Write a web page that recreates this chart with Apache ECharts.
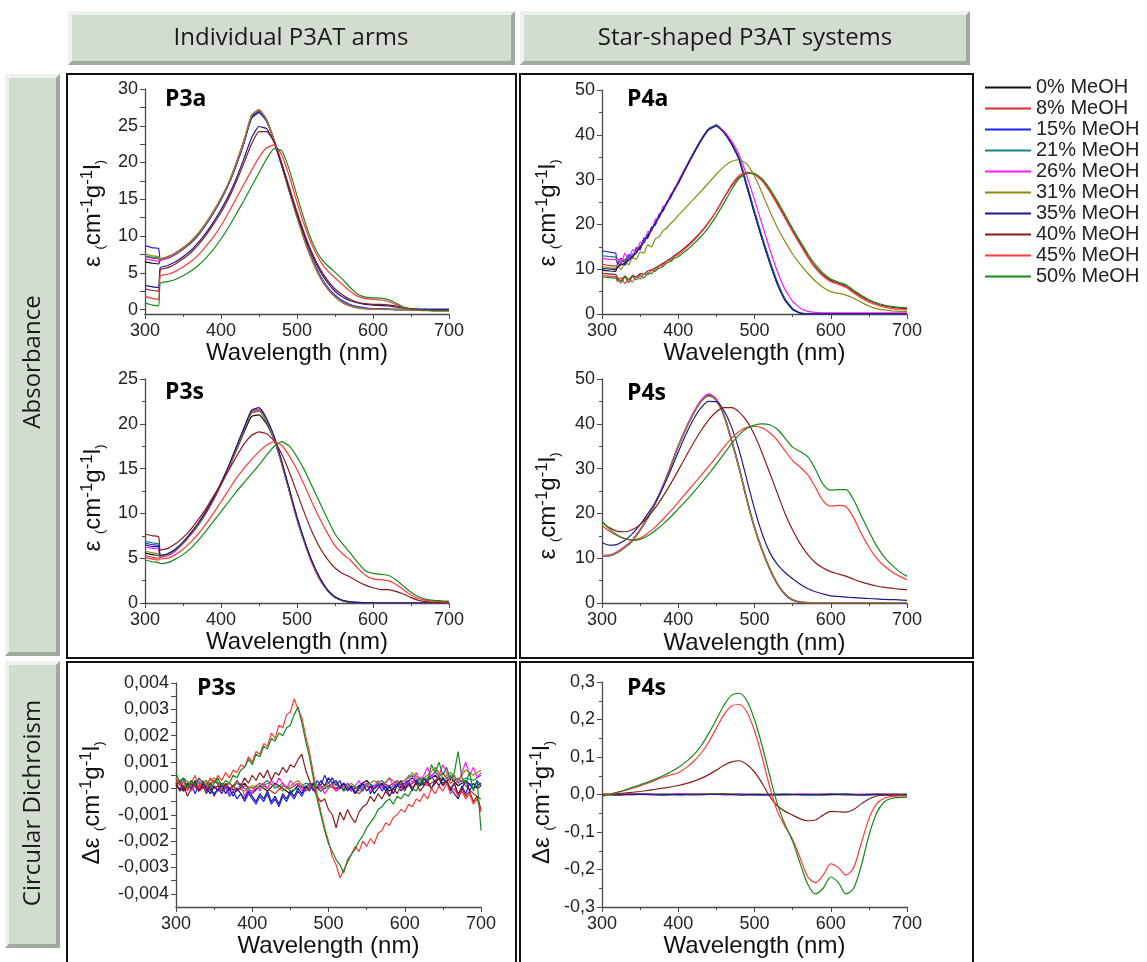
<!DOCTYPE html>
<html><head><meta charset="utf-8">
<script src="https://cdn.jsdelivr.net/npm/echarts@6/dist/echarts.min.js"></script>
<style>html,body{margin:0;padding:0;background:#fff;}#c{width:1147px;height:962px;}</style>
</head><body><div id="c"></div>
<script>
// ---------- series names / colours ----------
const NAMES = ['0% MeOH','8% MeOH','15% MeOH','21% MeOH','26% MeOH','31% MeOH','35% MeOH','40% MeOH','45% MeOH','50% MeOH'];
const COLORS = ['#111111','#d82a2a','#2323f5','#15877f','#ff1aff','#8c8c10','#1c1c8a','#8a1c1c','#ff3a3a','#17891a'];
const X_TICKS = [300,400,500,600,700];

// ---------- wavelength grids ----------
const X_A3 = [300,310,318,
 320,330,340,350,360,370,380,390,400,410,
 420,430,440,450,460,470,480,490,500,510,
 520,530,540,550,560,570,580,590,600,610,
 620,630,640,650,660,670,680,690,700];
const X_P4A = [300,310,318,
 320,325,330,335,340,345,350,355,360,365,370,375,380,385,390,395,400,
 410,420,430,440,450,460,470,480,490,500,
 510,520,530,540,550,560,570,580,590,600,
 610,620,630,640,650,660,670,680,690,700];
const X_P4S = [300,310,320,330,340,350,360,370,380,390,
 400,410,420,430,440,450,460,470,480,490,
 500,510,520,530,540,550,560,570,580,590,
 600,610,620,630,640,650,660,670,680,690,700];
const X_CD3 = [300,305,310,315,320,325,330,335,340,345,
 350,355,360,365,370,375,380,385,390,395,
 400,405,410,415,420,425,430,435,440,445,
 450,455,460,465,470,475,480,485,490,495,
 500,505,510,515,520,525,530,535,540,545,
 550,555,560,565,570,575,580,585,590,595,
 600,605,610,615,620,625,630,635,640,645,
 650,655,660,665,670,675,680,685,690,695,700];
const X_CD3B = X_P4S;
const X_CD4 = X_P4S;
const X_CD4F = [300,320,340,360,380,400,420,440,460,480,500,520,540,560,580,600,620,640,660,680,700];

// ---------- P3a absorbance ----------
const P3A_0 = [6.5,6.3,6.2,
 6.7,7.0,7.5,8.2,9.0,10.1,11.5,13.1,14.9,17.0,
 19.6,22.6,26.0,26.8,25.6,22.9,19.6,16.1,12.7,9.5,
 6.8,4.6,3.0,1.9,1.1,0.6,0.3,0.15,0.08,0.04,
 0.02,0,0,0,0,0,0,0,0];
const P3A_8 = [7.2,7.0,6.9,
 6.8,7.1,7.6,8.3,9.1,10.2,11.6,13.2,15.0,17.1,
 19.7,22.7,26.2,27.0,25.8,23.0,19.7,16.2,12.8,9.6,
 6.9,4.7,3.0,1.9,1.1,0.6,0.3,0.15,0.08,0.04,
 0.02,0,0,0,0,0,0,0,0];
const P3A_15 = [8.7,8.4,8.3,
 6.9,7.2,7.7,8.4,9.2,10.3,11.7,13.3,15.1,17.2,
 19.7,22.6,26.1,26.9,25.7,23.0,19.7,16.2,12.8,9.6,
 6.9,4.7,3.1,2.0,1.2,0.7,0.4,0.25,0.15,0.1,
 0.08,0.05,0.05,0.05,0.05,0.05,0.05,0.05,0.05];
const P3A_21 = [7.3,7.1,7.0,
 6.8,7.1,7.6,8.3,9.1,10.2,11.6,13.2,15.0,17.1,
 19.8,22.8,26.3,27.1,25.8,23.0,19.6,16.1,12.7,9.5,
 6.8,4.6,3.0,1.9,1.1,0.6,0.3,0.15,0.08,0.04,
 0.02,0,0,0,0,0,0,0,0];
const P3A_26 = [6.9,6.7,6.6,
 6.7,7.0,7.6,8.3,9.2,10.3,11.7,13.3,15.1,17.2,
 19.9,22.9,26.4,27.2,25.9,23.0,19.6,16.0,12.6,9.4,
 6.7,4.5,2.9,1.8,1.0,0.5,0.25,0.12,0.06,0.03,
 0.02,0,0,0,0,0,0,0,0];
const P3A_31 = [7.6,7.3,7.2,
 6.9,7.2,7.7,8.4,9.3,10.4,11.8,13.4,15.2,17.3,
 20.0,23.0,26.4,27.2,25.8,22.9,19.5,15.9,12.5,9.3,
 6.6,4.4,2.8,1.7,0.9,0.45,0.2,0.08,0.03,0.01,
 0,0,0,0,0,0,0,0,0];
const P3A_35 = [3.3,3.1,3.0,
 5.7,6.0,6.5,7.2,8.0,9.1,10.4,11.9,13.6,15.5,
 17.8,20.5,23.3,24.9,24.6,22.7,19.6,16.3,13.0,10.0,
 7.4,5.3,3.7,2.5,1.7,1.2,0.9,0.7,0.6,0.55,
 0.5,0.35,0.2,0.1,0.05,0.02,0,0,0];
const P3A_40 = [2.8,2.6,2.5,
 5.4,5.7,6.2,6.9,7.7,8.8,10.1,11.6,13.2,15.1,
 17.4,19.9,22.5,24.2,24.2,22.8,19.9,16.6,13.3,10.3,
 7.7,5.6,4.0,2.8,2.0,1.4,1.0,0.8,0.7,0.7,
 0.65,0.5,0.3,0.1,0.0,-0.05,-0.1,-0.1,-0.1];
const P3A_45 = [1.8,1.5,1.4,
 4.6,4.8,5.2,5.8,6.5,7.4,8.6,9.9,11.4,13.2,
 15.1,17.0,18.9,20.7,22.0,22.4,21.0,18.1,14.6,11.4,
 8.7,6.7,5.3,4.3,3.4,2.5,1.8,1.5,1.4,1.3,
 1.1,0.7,0.25,0.0,-0.1,-0.15,-0.2,-0.2,-0.2];
const P3A_50 = [0.9,0.6,0.5,
 3.6,3.8,4.1,4.6,5.2,6.0,7.0,8.2,9.6,11.2,
 13.0,14.8,16.7,18.6,20.5,21.9,21.6,19.0,15.5,12.1,
 9.2,7.2,6.0,5.1,4.1,3.0,2.1,1.7,1.6,1.55,
 1.35,0.9,0.35,0.05,-0.05,-0.1,-0.15,-0.15,-0.15];

// ---------- P4a absorbance ----------
const P4A_0 = [9.8,9.6,9.5,
 10.3,11.2,10.9,12.5,12.6,14.2,14.6,16.5,17.2,19.2,20.0,22.1,23.0,24.9,26.1,27.9,29.1,
 32.5,35.7,38.7,41.1,42.1,40.5,37.9,34.4,28.4,22.4,
 16.7,11.4,6.7,3.1,1.0,0.15,0,0,0,0,
 0,0,0,0,0,0,0,0,0,0];
const P4A_8 = [11.1,10.8,10.7,
 11.0,11.6,11.8,12.9,12.8,14.5,14.8,16.8,17.0,19.0,20.4,21.8,23.4,24.6,26.3,27.6,29.4,
 32.7,35.9,38.9,41.3,42.2,40.6,38.0,34.6,28.6,22.6,
 16.9,11.6,6.9,3.3,1.1,0.2,0.05,0,0,0,
 0,0,0,0,0,0,0,0,0,0];
const P4A_15 = [14.1,13.8,13.6,
 11.2,12.5,11.4,13.3,12.4,14.9,14.3,17.0,16.9,19.4,19.9,22.3,23.1,25.0,26.0,28.0,29.2,
 32.6,35.8,38.9,41.3,42.1,40.6,38.1,34.7,28.8,22.8,
 17.1,11.8,7.0,3.3,1.1,0.2,0.05,0.05,0.05,0.05,
 0.05,0.05,0.05,0.05,0.05,0.05,0.05,0.05,0.05,0.05];
const P4A_21 = [13.0,12.8,12.7,
 11.6,12.0,12.2,12.7,13.3,14.1,15.2,16.2,17.8,18.7,20.6,21.7,23.6,24.6,26.5,27.7,29.5,
 32.8,36.0,39.0,41.4,42.2,40.7,38.2,34.8,29.0,23.0,
 17.3,12.0,7.2,3.4,1.2,0.25,0.1,0.1,0.1,0.1,
 0.1,0.1,0.1,0.1,0.1,0.1,0.1,0.1,0.1,0.1];
const P4A_26 = [12.4,12.2,12.1,
 12.5,11.3,13.6,12.0,14.4,13.6,16.0,16.0,18.4,18.4,21.2,21.5,24.0,24.5,26.8,27.5,29.6,
 32.8,35.9,38.9,41.2,42.0,40.8,38.6,35.5,30.8,25.5,
 20.0,14.5,9.5,5.5,2.8,1.3,0.6,0.35,0.25,0.25,
 0.25,0.25,0.25,0.25,0.25,0.25,0.25,0.25,0.25,0.25];
const P4A_31 = [10.6,10.3,10.2,
 10.8,9.9,11.5,11.0,12.6,12.2,13.9,13.6,15.5,15.0,16.8,17.2,18.6,19.2,20.2,21.0,22.0,
 23.8,25.6,27.4,29.3,31.2,32.9,34.1,34.5,33.5,30.8,
 27.0,23.0,19.3,16.2,13.4,11.1,9.1,7.3,5.9,5.0,
 4.6,4.2,3.5,2.6,1.8,1.2,0.9,0.7,0.6,0.6];
const P4A_35 = [10.2,10.0,9.9,
 10.4,11.0,11.3,12.0,12.9,13.6,15.0,15.9,17.5,18.8,20.3,21.6,23.3,24.8,26.2,27.8,29.3,
 32.6,35.8,38.8,41.2,42.0,40.5,37.9,34.4,28.4,22.4,
 16.7,11.4,6.7,3.1,1.0,0.15,0.05,0.05,0.05,0.05,
 0.05,0.05,0.05,0.05,0.05,0.05,0.05,0.05,0.05,0.05];
const P4A_40 = [9.1,8.9,8.8,
 8.2,7.4,8.5,7.6,8.6,8.2,9.0,8.9,9.6,9.8,10.3,10.8,11.3,11.9,12.4,13.1,13.6,
 15.0,16.6,18.4,20.5,23.0,25.9,28.6,30.6,31.5,31.2,
 29.8,27.5,24.7,21.7,18.6,15.7,12.9,10.5,8.7,7.5,
 6.9,6.2,5.0,3.9,3.0,2.3,1.8,1.5,1.3,1.2];
const P4A_45 = [8.6,8.4,8.3,
 7.2,8.1,6.8,7.9,7.1,8.5,7.8,9.0,8.7,9.8,9.5,10.7,10.9,11.8,12.0,12.9,13.2,
 14.7,16.3,18.2,20.4,23.0,26.0,28.9,31.0,31.7,31.2,
 29.7,27.3,24.4,21.4,18.3,15.4,12.6,10.2,8.4,7.2,
 6.6,5.9,4.7,3.6,2.7,2.0,1.5,1.2,1.0,0.9];
const P4A_50 = [8.3,8.1,8.0,
 7.8,6.9,8.3,7.0,8.4,7.6,8.6,8.0,9.2,9.0,9.9,10.2,10.6,11.4,11.7,12.5,12.8,
 14.1,15.6,17.3,19.4,21.9,24.8,27.8,30.3,31.4,31.4,
 30.2,28.0,25.2,22.2,19.1,16.2,13.4,11.0,9.1,7.8,
 7.1,6.5,5.3,4.2,3.2,2.5,2.0,1.7,1.5,1.4];

// ---------- P3s absorbance ----------
const P3S_0 = [5.6,5.4,5.3,
 5.2,5.4,5.9,6.7,7.6,8.7,10.0,11.5,13.2,15.0,
 17.0,19.0,20.8,21.0,20.0,18.2,15.6,12.5,9.4,6.8,
 4.5,2.7,1.4,0.6,0.25,0.1,0.05,0.03,0.02,0.02,
 0.02,0.02,0.02,0.02,0.02,0.02,0.02,0.02,0.02];
const P3S_8 = [5.3,5.1,5.0,
 5.1,5.3,5.8,6.6,7.6,8.7,10.0,11.5,13.2,15.0,
 17.1,19.2,21.2,21.4,20.3,18.4,15.7,12.6,9.5,6.9,
 4.6,2.8,1.5,0.7,0.3,0.12,0.06,0.04,0.03,0.02,
 0.02,0.02,0.02,0.02,0.02,0.02,0.02,0.02,0.02];
const P3S_15 = [6.7,6.5,6.4,
 5.3,5.5,6.0,6.8,7.8,8.9,10.2,11.7,13.4,15.2,
 17.3,19.4,21.4,21.6,20.4,18.4,15.6,12.5,9.4,6.8,
 4.5,2.7,1.4,0.6,0.25,0.1,0.05,0.03,0.02,0.02,
 0.02,0.02,0.02,0.02,0.02,0.02,0.02,0.02,0.02];
const P3S_21 = [6.9,6.7,6.6,
 5.2,5.4,5.9,6.7,7.7,8.8,10.1,11.6,13.3,15.1,
 17.2,19.3,21.3,21.5,20.3,18.3,15.5,12.4,9.3,6.7,
 4.4,2.6,1.4,0.6,0.25,0.1,0.05,0.03,0.02,0.02,
 0.02,0.02,0.02,0.02,0.02,0.02,0.02,0.02,0.02];
const P3S_26 = [6.3,6.1,6.0,
 5.1,5.3,5.8,6.7,7.7,8.8,10.1,11.6,13.3,15.1,
 17.3,19.4,21.4,21.6,20.4,18.3,15.5,12.4,9.3,6.7,
 4.4,2.6,1.4,0.6,0.25,0.1,0.05,0.03,0.02,0.02,
 0.02,0.02,0.02,0.02,0.02,0.02,0.02,0.02,0.02];
const P3S_31 = [5.8,5.6,5.5,
 5.2,5.4,5.9,6.7,7.7,8.8,10.1,11.6,13.3,15.1,
 17.2,19.3,21.3,21.5,20.4,18.4,15.6,12.5,9.4,6.8,
 4.5,2.7,1.4,0.6,0.25,0.1,0.05,0.03,0.02,0.02,
 0.02,0.02,0.02,0.02,0.02,0.02,0.02,0.02,0.02];
const P3S_35 = [6.5,6.3,6.3,
 5.3,5.5,6.0,6.8,7.8,8.9,10.2,11.7,13.4,15.3,
 17.4,19.5,21.5,21.8,20.6,18.6,15.8,12.7,9.6,6.9,
 4.6,2.8,1.5,0.7,0.3,0.12,0.06,0.04,0.03,0.02,
 0.02,0.02,0.02,0.02,0.02,0.02,0.02,0.02,0.02];
const P3S_40 = [7.7,7.5,7.4,
 5.9,6.1,6.6,7.3,8.2,9.3,10.5,11.9,13.3,14.8,
 16.3,17.7,18.7,19.1,18.9,18.1,16.6,14.6,12.3,10.0,
 7.9,6.2,4.9,3.9,3.3,2.9,2.4,2.0,1.7,1.5,
 1.5,1.3,1.0,0.6,0.3,0.15,0.1,0.05,0.05];
const P3S_45 = [5.1,4.9,4.8,
 4.9,5.0,5.4,6.0,6.8,7.7,8.8,10.0,11.3,12.6,
 13.9,15.0,16.0,16.9,17.6,18.0,17.6,16.4,14.9,13.1,
 11.2,9.4,7.8,6.4,5.5,4.8,3.9,3.1,2.7,2.6,
 2.5,2.1,1.5,0.9,0.5,0.3,0.2,0.15,0.15];
const P3S_50 = [4.8,4.6,4.5,
 4.4,4.5,4.9,5.4,6.1,7.0,8.0,9.1,10.2,11.3,
 12.4,13.4,14.4,15.4,16.5,17.5,18.0,17.5,16.3,14.8,
 13.0,11.2,9.4,7.7,6.6,5.6,4.5,3.6,3.3,3.2,
 3.1,2.6,1.9,1.2,0.7,0.4,0.3,0.25,0.2];

// ---------- P4s absorbance ----------
const P4S_0 = [10.5,10.6,11.3,12.5,14.0,16.3,19.0,22.3,26.1,30.5,
 35.0,38.9,42.3,45.0,46.3,45.2,41.7,36.1,29.9,22.9,
 16.7,11.7,7.5,4.2,1.9,0.6,0.15,0.05,0.02,0.02,
 0.02,0.02,0.02,0.02,0.02,0.02,0.02,0.02,0.02,0.02,0.02];
const P4S_8 = [10.6,10.7,11.4,12.6,14.1,16.4,19.1,22.4,26.2,30.6,
 35.1,39.0,42.5,45.2,46.5,45.4,41.9,36.3,30.1,23.1,
 16.9,11.9,7.7,4.3,2.0,0.7,0.2,0.05,0.02,0.02,
 0.02,0.02,0.02,0.02,0.02,0.02,0.02,0.02,0.02,0.02,0.02];
const P4S_15 = [10.4,10.5,11.2,12.4,13.9,16.2,18.9,22.2,26.0,30.4,
 34.9,38.8,42.3,45.1,46.6,45.5,42.0,36.4,30.2,23.2,
 17.0,11.9,7.7,4.3,2.0,0.7,0.2,0.05,0.02,0.02,
 0.02,0.02,0.02,0.02,0.02,0.02,0.02,0.02,0.02,0.02,0.02];
const P4S_21 = [10.5,10.6,11.3,12.5,14.0,16.3,19.0,22.3,26.1,30.5,
 35.0,38.9,42.4,45.1,46.5,45.3,41.8,36.2,30.0,23.0,
 16.8,11.8,7.6,4.2,1.9,0.6,0.15,0.05,0.02,0.02,
 0.02,0.02,0.02,0.02,0.02,0.02,0.02,0.02,0.02,0.02,0.02];
const P4S_26 = [10.6,10.7,11.4,12.6,14.1,16.4,19.1,22.4,26.2,30.6,
 35.1,39.0,42.5,45.3,46.7,45.5,42.0,36.3,30.1,23.1,
 16.9,11.9,7.7,4.3,2.0,0.7,0.2,0.05,0.02,0.02,
 0.02,0.02,0.02,0.02,0.02,0.02,0.02,0.02,0.02,0.02,0.02];
const P4S_31 = [10.4,10.5,11.2,12.4,13.9,16.2,18.9,22.2,26.0,30.4,
 34.9,38.8,42.2,44.9,46.2,45.2,41.8,36.3,30.1,23.1,
 16.9,11.9,7.7,4.4,2.1,0.8,0.3,0.15,0.1,0.1,
 0.1,0.1,0.1,0.1,0.1,0.1,0.1,0.1,0.1,0.1,0.1];
const P4S_35 = [13.5,12.9,13.1,14.0,15.5,17.5,19.9,22.5,25.8,29.6,
 33.7,37.6,41.0,43.6,45.0,44.9,42.9,39.2,34.0,27.5,
 21.0,15.5,11.3,8.6,6.8,5.4,4.2,3.2,2.5,2.0,
 1.6,1.45,1.3,1.2,1.1,1.0,0.9,0.8,0.75,0.7,0.6];
const P4S_40 = [18.0,16.8,16.0,15.9,16.4,17.5,19.2,21.3,23.8,26.6,
 29.6,32.7,35.7,38.5,40.9,42.7,43.6,43.6,42.6,40.6,
 37.5,33.5,29.0,24.5,20.0,16.3,13.2,10.8,9.0,7.8,
 7.0,6.5,6.0,5.3,4.7,4.2,3.8,3.5,3.3,3.1,3.0];
const P4S_45 = [17.3,16.0,15.0,14.3,14.1,14.5,15.6,17.0,18.7,20.5,
 22.5,24.5,26.5,28.5,30.5,32.6,34.8,36.8,38.3,39.2,
 39.4,39.1,38.0,36.3,34.0,31.8,30.3,28.6,25.8,22.8,
 21.6,21.8,21.5,19.0,15.5,12.5,10.0,8.3,7.0,6.0,5.2];
const P4S_50 = [18.2,16.5,15.2,14.4,14.0,14.2,15.0,16.2,17.6,19.2,
 21.0,22.8,24.7,26.7,28.8,31.0,33.3,35.6,37.6,39.0,
 39.7,40.0,39.8,38.8,36.8,34.8,33.8,32.6,29.8,26.5,
 25.2,25.3,25.3,23.0,19.5,16.0,12.8,10.3,8.5,7.0,6.0];

// ---------- P3s circular dichroism ----------
const CD3_0 = [0.0001,-0.0001,0.0002,0.0000,0.0001,-0.0002,0.0001,0.0000,-0.0001,0.0002,
 -0.0002,0.0001,-0.0001,0.0002,0.0000,-0.0002,0.0001,0.0000,0.0002,-0.0001,
 0.0001,0.0000,0.0002,-0.0001,0.0001,0.0003,0.0000,0.0002,-0.0001,0.0001,
 0.0002,0.0004,0.0001,0.0003,0.0005,0.0002,0.0004,0.0001,0.0003,0.0000,0.0002];
const CD3_8 = [0.0003,0.0000,0.0002,-0.0001,0.0001,0.0003,0.0000,0.0002,-0.0001,0.0001,
 0.0000,0.0002,0.0000,-0.0002,0.0001,0.0000,0.0002,-0.0001,0.0001,0.0000,
 0.0002,-0.0001,0.0001,0.0000,-0.0002,0.0001,0.0000,0.0002,0.0001,0.0003,
 0.0000,0.0002,0.0004,0.0001,0.0003,0.0006,0.0002,0.0004,0.0001,-0.0002,-0.0004];
const CD3_15 = [0.0002,-0.0001,0.0003,0.0000,0.0002,-0.0002,0.0001,0.0003,-0.0001,0.0001,
 -0.0003,0.0000,-0.0002,0.0001,-0.0003,-0.0001,-0.0004,-0.0002,-0.0005,-0.0002,
 -0.0004,-0.0006,-0.0003,-0.0005,-0.0002,-0.0006,-0.0004,-0.0007,-0.0003,-0.0005,
 -0.0002,-0.0004,-0.0001,-0.0003,0.0000,0.0002,-0.0001,0.0003,0.0001,0.0005,
 0.0002,0.0004,0.0001,0.0003,-0.0001,0.0002,0.0000,-0.0002,0.0001,-0.0001,
 0.0002,-0.0002,0.0000,0.0002,-0.0001,0.0001,-0.0003,0.0000,0.0002,-0.0001,
 0.0001,0.0003,0.0000,0.0002,0.0004,0.0001,0.0003,0.0005,0.0002,0.0004,
 0.0001,0.0003,-0.0001,0.0002,-0.0003,0.0001,-0.0002,0.0002,0.0000,0.0003,0.0001];
const CD3_21 = [0.0002,0.0004,0.0001,0.0002,0.0000,0.0003,0.0001,-0.0001,0.0002,0.0000,
 -0.0001,0.0001,0.0003,0.0000,0.0002,-0.0001,0.0000,0.0002,0.0001,-0.0001,
 0.0001,0.0002,-0.0001,0.0001,0.0000,0.0002,0.0001,0.0003,0.0000,0.0002,
 0.0003,0.0005,0.0002,0.0004,0.0006,0.0003,0.0005,0.0002,0.0004,0.0003,0.0005];
const CD3_26 = [0.0001,0.0003,0.0000,0.0002,-0.0001,0.0001,0.0003,0.0000,0.0002,-0.0002,
 0.0001,-0.0001,0.0002,0.0000,-0.0002,0.0001,-0.0001,0.0002,-0.0003,0.0000,
 -0.0002,0.0001,-0.0001,0.0002,0.0000,0.0003,0.0001,0.0004,0.0002,0.0000,
 0.0003,0.0001,0.0002,-0.0001,0.0001,0.0000,0.0002,0.0000,0.0001,-0.0002,
 0.0000,0.0002,-0.0001,0.0001,0.0000,0.0002,-0.0001,0.0001,0.0003,0.0000,
 0.0002,-0.0001,0.0001,0.0003,0.0000,0.0002,0.0004,0.0001,0.0003,0.0000,
 0.0002,0.0005,0.0002,0.0006,0.0003,0.0005,0.0008,0.0004,0.0007,0.0005,
 0.0009,0.0006,0.0003,0.0005,0.0002,0.0006,0.0010,0.0005,0.0008,0.0004,0.0006];
const CD3_31 = [0.0004,0.0001,0.0003,0.0000,0.0002,0.0004,0.0001,0.0002,0.0000,-0.0001,
 0.0001,0.0000,0.0002,0.0001,-0.0001,0.0001,0.0003,0.0000,0.0002,0.0001,
 0.0000,0.0002,0.0000,0.0002,-0.0001,0.0001,0.0003,0.0001,0.0004,0.0002,
 0.0003,0.0006,0.0003,0.0005,0.0008,0.0004,0.0006,0.0003,0.0007,0.0005,0.0007];
const CD3_35 = [0.0001,0.0003,-0.0001,0.0002,0.0000,0.0003,-0.0001,0.0002,0.0000,-0.0002,
 0.0001,-0.0001,0.0002,-0.0002,0.0000,-0.0003,0.0000,-0.0002,-0.0004,-0.0001,
 -0.0003,-0.0005,-0.0002,-0.0004,-0.0001,-0.0005,-0.0003,-0.0006,-0.0002,-0.0004,
 -0.0001,-0.0003,0.0000,-0.0002,0.0001,-0.0001,0.0002,0.0000,0.0003,0.0001,
 0.0004,0.0002,0.0003,0.0000,0.0002,-0.0001,0.0001,-0.0002,0.0000,0.0002,
 -0.0001,0.0001,-0.0002,0.0000,0.0002,-0.0001,0.0001,-0.0002,0.0001,0.0003,
 0.0000,0.0002,-0.0001,0.0003,0.0001,0.0004,0.0002,0.0000,0.0003,0.0001,
 0.0004,0.0002,0.0000,-0.0002,-0.0004,0.0000,0.0003,-0.0001,0.0002,0.0000,0.0001];
const CD3_40 = [0.0002,-0.0001,0.0001,-0.0003,0.0000,0.0002,-0.0001,0.0001,-0.0002,0.0002,
 0.0000,0.0001,-0.0001,0.0002,0.0000,0.0001,0.0003,0.0001,0.0004,0.0002,
 0.0005,0.0003,0.0006,0.0004,0.0007,0.0003,0.0006,0.0005,0.0008,0.0006,
 0.0009,0.0008,0.0011,0.0013,0.0007,0.0003,0.0000,-0.0003,-0.0005,-0.0004,
 -0.0008,-0.0010,-0.0015,-0.0009,-0.0012,-0.0008,-0.0011,-0.0013,-0.0009,-0.0007,
 -0.0006,-0.0003,-0.0005,-0.0002,-0.0004,-0.0001,-0.0003,0.0000,-0.0002,0.0001,
 -0.0001,0.0002,0.0000,0.0002,-0.0001,0.0001,0.0003,0.0000,0.0002,0.0004,
 0.0001,0.0003,0.0000,0.0002,-0.0002,0.0000,-0.0003,-0.0001,-0.0005,-0.0003,-0.0008];
const CD3_45 = [0.0004,0.0001,0.0003,-0.0001,0.0002,0.0005,0.0000,0.0003,0.0001,0.0004,
 0.0002,0.0005,0.0003,0.0006,0.0004,0.0007,0.0006,0.0009,0.0008,0.0012,
 0.0010,0.0014,0.0013,0.0017,0.0016,0.0021,0.0019,0.0024,0.0023,0.0028,
 0.0029,0.0034,0.0030,0.0027,0.0020,0.0014,0.0006,-0.0002,-0.0009,-0.0015,
 -0.0020,-0.0026,-0.0029,-0.0034,-0.0031,-0.0028,-0.0025,-0.0022,-0.0024,-0.0020,
 -0.0022,-0.0019,-0.0021,-0.0017,-0.0016,-0.0013,-0.0014,-0.0011,-0.0010,-0.0008,
 -0.0009,-0.0006,-0.0007,-0.0004,-0.0005,-0.0002,-0.0004,0.0000,-0.0002,0.0001,
 -0.0001,0.0002,-0.0002,0.0000,-0.0003,-0.0001,-0.0004,-0.0002,-0.0006,-0.0004,-0.0009];
const CD3_50 = [0.0006,0.0002,0.0004,0.0000,0.0003,0.0001,0.0004,0.0002,0.0003,0.0000,
 0.0002,0.0004,0.0001,0.0003,0.0002,0.0005,0.0004,0.0007,0.0008,0.0011,
 0.0009,0.0013,0.0012,0.0016,0.0015,0.0019,0.0018,0.0021,0.0020,0.0023,
 0.0024,0.0028,0.0031,0.0025,0.0018,0.0012,0.0004,-0.0004,-0.0010,-0.0016,
 -0.0021,-0.0024,-0.0027,-0.0029,-0.0032,-0.0027,-0.0025,-0.0023,-0.0020,-0.0018,
 -0.0015,-0.0013,-0.0011,-0.0008,-0.0007,-0.0005,-0.0004,-0.0006,-0.0003,-0.0004,
 -0.0002,-0.0003,0.0000,-0.0001,0.0002,0.0004,0.0003,0.0009,0.0006,0.0010,
 0.0005,0.0008,0.0003,0.0006,0.0014,0.0004,0.0002,0.0006,-0.0001,0.0003,-0.0016];

// ---------- P4s circular dichroism ----------
const CD4_0  = [0.001,-0.001,0.002,0.000,0.001,-0.001,0.001,0.002,0.000,0.001,-0.001,0.000,0.001,-0.001,0.000,0.001,0.000,-0.001,0.000,0.001,0.000];
const CD4_8  = [0.000,0.001,-0.001,0.001,0.000,0.002,0.000,0.001,-0.001,0.000,0.001,-0.001,0.000,0.001,0.000,-0.001,0.001,0.000,0.001,0.000,-0.001];
const CD4_15 = [-0.001,0.000,0.001,0.000,-0.001,0.001,0.000,0.001,0.001,-0.001,0.000,0.001,-0.001,0.000,0.000,0.001,-0.001,0.000,0.001,0.000,0.000];
const CD4_21 = [0.001,0.000,0.000,0.001,-0.001,0.000,0.001,0.000,0.002,0.000,-0.001,0.000,0.001,0.000,-0.001,0.000,0.001,-0.001,0.000,0.000,0.001];
const CD4_26 = [0.000,0.001,0.001,-0.001,0.000,0.001,0.002,0.001,0.000,0.001,0.000,-0.001,0.000,0.001,0.001,0.000,0.000,0.001,-0.001,0.000,0.000];
const CD4_31 = [0.002,0.000,0.001,0.000,0.001,0.000,0.001,0.001,0.002,0.000,0.001,0.000,-0.001,0.000,0.001,0.000,-0.001,0.000,0.001,0.000,0.001];
const CD4_35 = [0.000,-0.001,0.000,0.001,-0.001,0.000,-0.001,0.000,0.001,-0.001,0.000,-0.001,0.000,0.000,-0.001,0.000,0.001,-0.001,0.000,-0.001,0.000];
const CD4_40 = [-0.002,0.0,0.002,0.004,0.006,0.008,0.011,0.014,0.017,0.02,
 0.024,0.029,0.035,0.043,0.053,0.065,0.078,0.087,0.09,0.08,
 0.06,0.03,-0.005,-0.03,-0.045,-0.055,-0.065,-0.07,-0.068,-0.055,
 -0.045,-0.046,-0.047,-0.04,-0.025,-0.012,-0.004,-0.002,-0.002,-0.002,-0.002];
const CD4_45 = [-0.003,0.001,0.006,0.011,0.017,0.023,0.03,0.038,0.046,0.052,
 0.058,0.071,0.088,0.11,0.14,0.177,0.213,0.236,0.24,0.22,
 0.17,0.1,0.02,-0.045,-0.085,-0.12,-0.17,-0.22,-0.235,-0.215,
 -0.185,-0.195,-0.215,-0.195,-0.13,-0.065,-0.025,-0.01,-0.005,-0.004,-0.004];
const CD4_50 = [-0.005,0.0,0.006,0.012,0.019,0.026,0.033,0.041,0.05,0.06,
 0.072,0.087,0.105,0.13,0.163,0.2,0.238,0.265,0.27,0.25,
 0.2,0.13,0.05,-0.025,-0.08,-0.125,-0.185,-0.24,-0.265,-0.25,
 -0.22,-0.235,-0.265,-0.25,-0.19,-0.11,-0.05,-0.02,-0.01,-0.008,-0.007];

// ---------- panel table ----------
const PANELS = [
 {xs:[X_A3,X_A3,X_A3,X_A3,X_A3,X_A3,X_A3,X_A3,X_A3,X_A3], ys:[P3A_0,P3A_8,P3A_15,P3A_21,P3A_26,P3A_31,P3A_35,P3A_40,P3A_45,P3A_50], smooth:0.15},
 {xs:[X_P4A,X_P4A,X_P4A,X_P4A,X_P4A,X_P4A,X_P4A,X_P4A,X_P4A,X_P4A], ys:[P4A_0,P4A_8,P4A_15,P4A_21,P4A_26,P4A_31,P4A_35,P4A_40,P4A_45,P4A_50], smooth:0.1},
 {xs:[X_A3,X_A3,X_A3,X_A3,X_A3,X_A3,X_A3,X_A3,X_A3,X_A3], ys:[P3S_0,P3S_8,P3S_15,P3S_21,P3S_26,P3S_31,P3S_35,P3S_40,P3S_45,P3S_50], smooth:0.15},
 {xs:[X_P4S,X_P4S,X_P4S,X_P4S,X_P4S,X_P4S,X_P4S,X_P4S,X_P4S,X_P4S], ys:[P4S_0,P4S_8,P4S_15,P4S_21,P4S_26,P4S_31,P4S_35,P4S_40,P4S_45,P4S_50], smooth:0.3},
 {xs:[X_CD3B,X_CD3B,X_CD3,X_CD3B,X_CD3,X_CD3B,X_CD3,X_CD3,X_CD3,X_CD3], ys:[CD3_0,CD3_8,CD3_15,CD3_21,CD3_26,CD3_31,CD3_35,CD3_40,CD3_45,CD3_50], smooth:false},
 {xs:[X_CD4F,X_CD4F,X_CD4F,X_CD4F,X_CD4F,X_CD4F,X_CD4F,X_CD4,X_CD4,X_CD4], ys:[CD4_0,CD4_8,CD4_15,CD4_21,CD4_26,CD4_31,CD4_35,CD4_40,CD4_45,CD4_50], smooth:0.3}
];

// ---------- layout ----------
const GRIDS = [
 {left:145, top:89,  width:304, height:225},
 {left:602, top:90,  width:305, height:224},
 {left:145, top:379, width:304, height:224},
 {left:602, top:379, width:305, height:224},
 {left:176, top:683, width:305, height:224},
 {left:602, top:682, width:305, height:225}
];
const XNAME_GAP = [27,21,20,28,20,21];
const YNAME_GAP = [38,40,38,40,70,46];
const YNAME_SHIFT = [24,22,14,30,16,16];
const FONT = 'Liberation Sans';
const AX = '#4a4a4a';

function pairs(xs, ys){
  if (xs.length !== ys.length) console.warn('length mismatch', xs.length, ys.length);
  const out = [];
  for (let i = 0; i < Math.min(xs.length, ys.length); i++) out.push([xs[i], ys[i]]);
  return out;
}
const RICH = {
  e:{fontSize:24, lineHeight:28, fontFamily:FONT, color:'#111'},
  t:{fontSize:24, lineHeight:28, fontFamily:FONT, color:'#111'},
  s:{fontSize:17, lineHeight:17, verticalAlign:'top', fontFamily:FONT, color:'#111'},
  p:{fontSize:13, lineHeight:13, verticalAlign:'bottom', fontFamily:FONT, color:'#111'}
};
function yName(sym){ return '{e|' + sym + '} {p|(}{t|cm}{s|-1}{t|g}{s|-1}{t|l}{p|)}'; }

const Y_CFG = [
 {min:-0.6, max:30, labels:[0,5,10,15,20,25,30], ticks:[0,2.5,5,7.5,10,12.5,15,17.5,20,22.5,25,27.5,30], fmt:v=>String(v), sym:'ε'},
 {min:0, max:50, interval:10, fmt:v=>String(v), sym:'ε'},
 {min:0, max:25, interval:5, fmt:v=>String(v), sym:'ε'},
 {min:0, max:50, interval:10, fmt:v=>String(v), sym:'ε'},
 {min:-0.0045, max:0.004, labels:[-0.004,-0.003,-0.002,-0.001,0,0.001,0.002,0.003,0.004],
  ticks:[-0.004,-0.0035,-0.003,-0.0025,-0.002,-0.0015,-0.001,-0.0005,0,0.0005,0.001,0.0015,0.002,0.0025,0.003,0.0035,0.004],
  fmt:v=>(Math.abs(v)<1e-12?0:v).toFixed(3).replace('.',','), sym:'Δε'},
 {min:-0.3, max:0.3, interval:0.1, fmt:v=>(Math.abs(v)<1e-9?0:v).toFixed(1).replace('.',','), sym:'Δε'}
];

const xAxes = GRIDS.map((g,i)=>({
  type:'value', gridIndex:i, min:300, max:700, interval:100,
  name:'Wavelength (nm)', nameLocation:'middle', nameGap:XNAME_GAP[i],
  nameTextStyle:{fontSize:24, fontFamily:FONT, color:'#111'},
  axisLine:{onZero:false, lineStyle:{color:AX, width:1.3}},
  axisTick:{show:true, inside:false, length:5, lineStyle:{color:AX, width:1}},
  minorTick:{show:true, splitNumber:2, length:3, lineStyle:{color:AX, width:1}},
  axisLabel:{fontSize:18, fontFamily:FONT, color:'#222', margin:8},
  splitLine:{show:false}
}));
const yAxes = Y_CFG.map((c,i)=>{
  const ax = {
    type:'value', gridIndex:i, min:c.min, max:c.max,
    name:yName(c.sym), nameLocation:'middle', nameGap:YNAME_GAP[i], nameRotate:90,
    nameTextStyle:{fontSize:24, fontFamily:FONT, color:'#111', rich:RICH, padding:[0, YNAME_SHIFT[i], 0, 0]},
    axisLine:{onZero:false, lineStyle:{color:AX, width:1.3}},
    axisTick:{show:true, inside:false, length:5, lineStyle:{color:AX, width:1}},
    axisLabel:{fontSize:18, fontFamily:FONT, color:'#222', margin:7, formatter:c.fmt},
    splitLine:{show:false}
  };
  if (c.interval !== undefined) {
    ax.interval = c.interval;
    ax.minorTick = {show:true, splitNumber:2, length:3, lineStyle:{color:AX, width:1}};
  }
  if (c.labels) {
    ax.axisLabel.customValues = c.labels;
    ax.axisTick.customValues = c.ticks;
  }
  return ax;
});

const series = [];
PANELS.forEach((p, gi)=>{
  NAMES.forEach((nm, k)=>{
    series.push({
      type:'line', name:nm, xAxisIndex:gi, yAxisIndex:gi,
      data:pairs(p.xs[k], p.ys[k]),
      showSymbol:false, symbol:'none', smooth:p.smooth,
      lineStyle:{color:COLORS[k], width:1.2},
      itemStyle:{color:COLORS[k]},
      emphasis:{disabled:true}, silent:true, animation:false
    });
  });
});

// ---------- decorations ----------
function bevel(x,y,w,h){
  const b = 4;
  return [
    {type:'rect', shape:{x:x,y:y,width:w,height:h}, style:{fill:'#9fa99e'}},
    {type:'polygon', shape:{points:[[x,y],[x+w,y],[x+w-b,y+b],[x+b,y+b],[x+b,y+h-b],[x,y+h]]}, style:{fill:'#eef2ed'}},
    {type:'rect', shape:{x:x+b,y:y+b,width:w-2*b,height:h-2*b}, style:{fill:'#d3dcd1'}}
  ];
}
function label(text, x, y, size, rot){
  return {type:'text', x:x, y:y, rotation:rot||0,
    style:{text:text, x:0, y:0, fill:'#1a1a1a', font:size+'px "Open Sans"', textAlign:'center', textVerticalAlign:'middle', align:'center', verticalAlign:'middle'}};
}
function title(text, x, y){
  return {type:'text', x:x, y:y,
    style:{text:text, fill:'#000', font:'bold 23px "Open Sans"', textAlign:'left', textVerticalAlign:'middle', align:'left', verticalAlign:'middle'}};
}
function frame(x,y,w,h){
  return {type:'rect', shape:{x:x,y:y,width:w,height:h}, style:{fill:'none', stroke:'#111', lineWidth:2}};
}
const graphic = [].concat(
  bevel(68,11,447,54), bevel(520,11,450,54),
  bevel(5,74,55,582), bevel(5,661,55,287),
  [
    label('Individual P3AT arms', 291, 38, 24),
    label('Star-shaped P3AT systems', 745, 38, 24),
    label('Absorbance', 33, 362, 24, Math.PI/2),
    label('Circular Dichroism', 33, 803, 24, Math.PI/2),
    frame(67,74,449,584), frame(520,74,453,584),
    frame(67,662,449,310), frame(520,662,453,310),
    title('P3a', 165, 99), title('P4a', 627, 99),
    title('P3s', 165, 392), title('P4s', 627, 393),
    title('P3s', 197, 688), title('P4s', 627, 688)
  ]
);

const chart = echarts.init(document.getElementById('c'), null, {renderer:'canvas'});
chart.setOption({
  backgroundColor:'#ffffff',
  animation:false,
  grid: GRIDS.map(g=>Object.assign({containLabel:false}, g)),
  xAxis: xAxes,
  yAxis: yAxes,
  legend:{
    orient:'vertical', left:980, top:72, itemWidth:46, itemHeight:2, itemGap:0, icon:'rect',
    selectedMode:false,
    textStyle:{fontSize:20, lineHeight:21, fontFamily:FONT, color:'#222'},
    data:NAMES
  },
  graphic: graphic,
  series: series
});
</script>
</body></html>
